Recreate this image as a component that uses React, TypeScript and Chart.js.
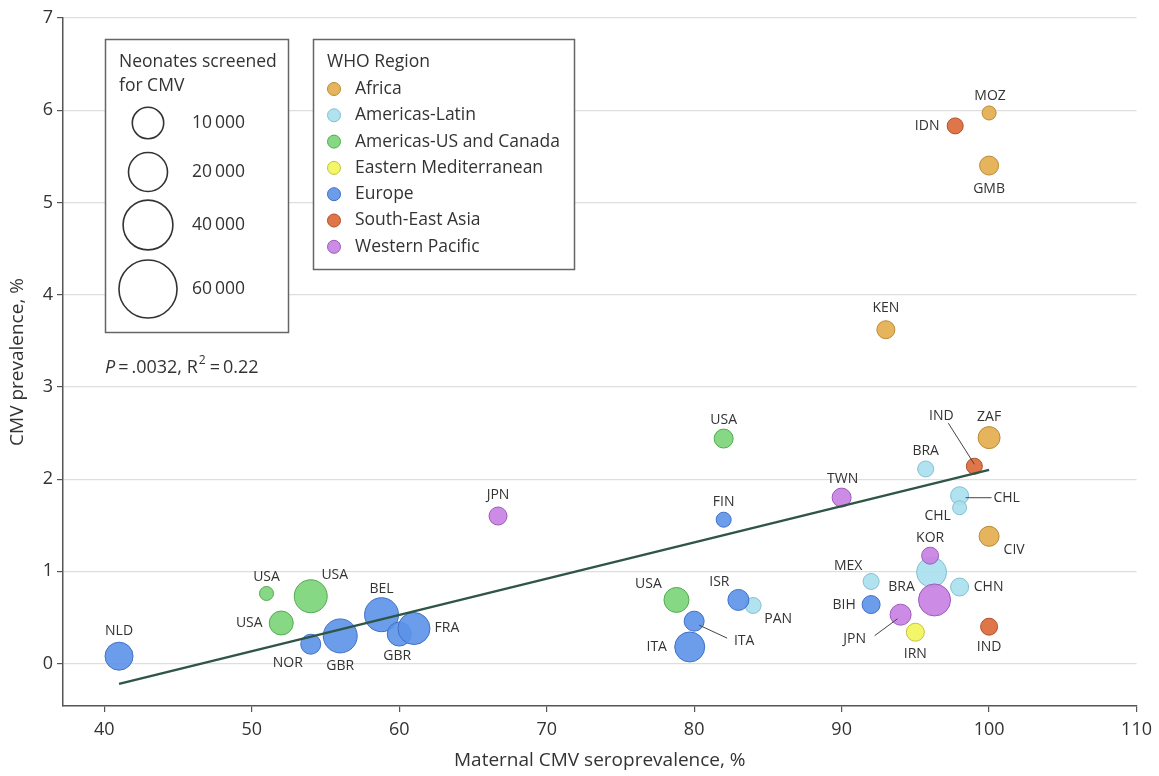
import React, { useEffect, useRef } from 'react';
import { Chart, registerables } from 'chart.js';

Chart.register(...registerables);

const FONT = '"Open Sans", "DejaVu Sans", sans-serif';
const TEXT = '#333333';

// ---------------- data ----------------
const regionNames = [
  'Africa',
  'Americas-Latin',
  'Americas-US and Canada',
  'Eastern Mediterranean',
  'Europe',
  'South-East Asia',
  'Western Pacific',
];

const countryCodes = [
  'NLD', 'USA', 'USA', 'USA', 'NOR', 'GBR', 'BEL', 'GBR', 'FRA', 'JPN',
  'USA', 'ITA', 'ITA', 'ISR', 'PAN', 'USA', 'FIN', 'TWN', 'MEX', 'BIH',
  'JPN', 'IRN', 'BRA', 'KOR', 'BRA', '', 'CHN', 'CHL', 'CHL', 'IND',
  'ZAF', 'CIV', 'IND', 'KEN', 'IDN', 'MOZ', 'GMB',
];

// index into regionNames
const whoRegion = [
  4, 2, 2, 2, 4, 4, 4, 4, 4, 6,
  2, 4, 4, 4, 1, 2, 4, 6, 1, 4,
  6, 3, 1, 6, 1, 6, 1, 1, 1, 5,
  0, 0, 5, 0, 5, 0, 0,
];

const maternalSeroprevalence = [
  41, 51, 54, 52, 54, 56, 58.8, 60, 61, 66.7,
  78.8, 80, 79.7, 83, 84, 82, 82, 90, 92, 92,
  94, 95, 95.7, 96, 96.1, 96.3, 98, 98, 98, 99,
  100, 100, 100, 93, 97.7, 100, 100,
];

const cmvPrevalence = [
  0.08, 0.76, 0.73, 0.44, 0.21, 0.30, 0.53, 0.32, 0.38, 1.60,
  0.69, 0.46, 0.18, 0.69, 0.63, 2.44, 1.56, 1.80, 0.89, 0.64,
  0.53, 0.34, 2.11, 1.17, 0.99, 0.69, 0.83, 1.82, 1.69, 2.14,
  2.45, 1.38, 0.40, 3.62, 5.83, 5.97, 5.40,
];

const neonatesScreened = [
  6650, 30, 11800, 3570, 1450, 13000, 13000, 3570, 10700, 740,
  4250, 1450, 8540, 1890, 270, 1060, 120, 1060, 270, 740,
  1890, 740, 270, 470, 8540, 10700, 740, 740, 30, 270,
  2390, 1450, 470, 740, 270, 30, 1060,
];

const trendX = [41, 100];
const trendY = [-0.22, 2.1];

const xTicks = [40, 50, 60, 70, 80, 90, 100, 110];
const yTicks = [0, 1, 2, 3, 4, 5, 6, 7];

const sizeLegendValues = [10000, 20000, 40000, 60000];
const sizeLegendLabels = ['10\u2009000', '20\u2009000', '40\u2009000', '60\u2009000'];

// ---------------- styles ----------------
const regionFill = [
  'rgba(227,174,79,0.92)',
  'rgba(169,224,238,0.92)',
  'rgba(125,213,122,0.92)',
  'rgba(243,245,92,0.92)',
  'rgba(92,146,232,0.9)',
  'rgba(220,106,58,0.92)',
  'rgba(200,130,227,0.92)',
];
const regionStroke = ['#b98a34', '#84bfd2', '#52aa4f', '#c2c33c', '#3f70c6', '#b04f28', '#9c5bba'];

// label offsets (pixels, relative to point centre)
const labelOffsets = [
  [0, -25], [0, -16], [24, -21], [-32, 0], [-23, 19], [0, 30], [0, -26], [-2, 22], [33, -1], [0, -21],
  [-28, -16], [50, 20], [-33, 0], [-19, -18], [25, 14], [0, -19], [0, -18], [1, -19], [-23, -15], [-27, 0],
  [-46, 24], [0, 22], [0, -18], [0, -18], [-30, 15], [0, 0], [29, 0], [47, 2], [-22, 8], [-33, -50],
  [0, -21], [25, 14], [0, 20], [0, -22], [-28, 0], [1, -17], [0, 23],
];
// leader lines: [x1, y1, x2, y2] relative to point centre
const leaderLines: Record<number, number[]> = {
  11: [5, 4, 33, 17],
  20: [-26, 21, -3, 4],
  27: [6, 2, 32, 2],
  29: [-26, -43, 0, -2],
};

const radiusFor = (n: number) => 6.5 + 0.092 * Math.sqrt(n);

const labelsPlugin = {
  id: 'pointLabels',
  afterDatasetsDraw(chart: any) {
    const { ctx } = chart;
    const xs = chart.scales.x;
    const ys = chart.scales.y;
    ctx.save();
    ctx.font = `14px ${FONT}`;
    ctx.fillStyle = TEXT;
    ctx.textAlign = 'center';
    ctx.textBaseline = 'middle';
    countryCodes.forEach((code, i) => {
      const px = xs.getPixelForValue(maternalSeroprevalence[i]);
      const py = ys.getPixelForValue(cmvPrevalence[i]);
      const [dx, dy] = labelOffsets[i];
      if (code) ctx.fillText(code, px + dx, py + dy);
      const ld = leaderLines[i];
      if (ld) {
        ctx.beginPath();
        ctx.moveTo(px + ld[0], py + ld[1]);
        ctx.lineTo(px + ld[2], py + ld[3]);
        ctx.strokeStyle = '#444';
        ctx.lineWidth = 1;
        ctx.stroke();
      }
    });
    ctx.restore();
  },
};

const legendPlugin = {
  id: 'customLegends',
  afterDraw(chart: any) {
    const { ctx } = chart;
    ctx.save();
    const LF = `17.5px ${FONT}`;
    // size legend
    ctx.fillStyle = '#fff';
    ctx.fillRect(105, 39, 183, 293);
    ctx.strokeStyle = '#666';
    ctx.lineWidth = 1.5;
    ctx.strokeRect(105.5, 39.5, 183, 293);
    ctx.fillStyle = TEXT;
    ctx.font = LF;
    ctx.textAlign = 'left';
    ctx.textBaseline = 'middle';
    ctx.fillText('Neonates screened', 119, 62);
    ctx.fillText('for CMV', 119, 86);
    const cys = [123, 172, 225, 289];
    sizeLegendValues.forEach((v, j) => {
      ctx.beginPath();
      ctx.arc(148, cys[j], radiusFor(v), 0, Math.PI * 2);
      ctx.strokeStyle = '#333';
      ctx.lineWidth = 1.6;
      ctx.stroke();
      ctx.fillStyle = TEXT;
      ctx.fillText(sizeLegendLabels[j], 192, cys[j]);
    });

    // region legend
    ctx.fillStyle = '#fff';
    ctx.fillRect(313, 39, 261, 230);
    ctx.strokeStyle = '#666';
    ctx.lineWidth = 1.5;
    ctx.strokeRect(313.5, 39.5, 261, 230);
    ctx.fillStyle = TEXT;
    ctx.fillText('WHO Region', 327, 62);
    regionNames.forEach((name, k) => {
      const cy = 89 + 26.3 * k;
      ctx.beginPath();
      ctx.arc(334, cy, 6.5, 0, Math.PI * 2);
      ctx.fillStyle = regionFill[k];
      ctx.fill();
      ctx.strokeStyle = regionStroke[k];
      ctx.lineWidth = 1;
      ctx.stroke();
      ctx.fillStyle = TEXT;
      ctx.fillText(name, 355, cy);
    });

    // statistics annotation
    let x = 105;
    const y = 368;
    ctx.font = `italic 18px ${FONT}`;
    ctx.fillText('P', x, y);
    x += ctx.measureText('P').width;
    ctx.font = `18px ${FONT}`;
    const t1 = '\u2009=\u2009.0032, R';
    ctx.fillText(t1, x, y);
    x += ctx.measureText(t1).width;
    ctx.font = `12px ${FONT}`;
    ctx.fillText('2', x + 1, y - 7);
    x += ctx.measureText('2').width + 2;
    ctx.font = `18px ${FONT}`;
    ctx.fillText('\u2009=\u20090.22', x, y);
    ctx.restore();
  },
};

export default function App() {
  const canvasRef = useRef<HTMLCanvasElement | null>(null);

  useEffect(() => {
    if (!canvasRef.current) return;
    const datasets: any[] = [
      {
        type: 'line',
        label: 'Trend',
        data: trendX.map((x, i) => ({ x, y: trendY[i] })),
        borderColor: '#2e5546',
        borderWidth: 2.5,
        pointRadius: 0,
        fill: false,
        order: 0,
      },
    ];
    regionNames.forEach((name, k) => {
      const pts: any[] = [];
      countryCodes.forEach((_, i) => {
        if (whoRegion[i] === k) {
          pts.push({ x: maternalSeroprevalence[i], y: cmvPrevalence[i], r: radiusFor(neonatesScreened[i]) });
        }
      });
      datasets.push({
        type: 'bubble',
        label: name,
        data: pts,
        backgroundColor: regionFill[k],
        borderColor: regionStroke[k],
        borderWidth: 1,
        order: 7 - k,
      });
    });

    const chart = new Chart(canvasRef.current, {
      type: 'bubble',
      data: { datasets },
      options: {
        animation: false,
        responsive: false,
        layout: { padding: { left: 0, top: 15, right: 22, bottom: 0 } },
        plugins: { legend: { display: false }, tooltip: { enabled: false } },
        scales: {
          x: {
            type: 'linear',
            position: 'bottom',
            min: 37.2,
            max: 110,
            afterBuildTicks: (s: any) => {
              s.ticks = xTicks.map((v) => ({ value: v }));
            },
            afterFit: (s: any) => {
              s.height = 70;
            },
            grid: { drawOnChartArea: false, drawTicks: true, tickLength: 6, tickColor: '#555', lineWidth: 1.2 },
            border: { display: true, color: '#555', width: 1.5 },
            ticks: { font: { family: FONT, size: 18 }, color: TEXT, padding: 7, maxRotation: 0 },
            title: {
              display: true,
              text: 'Maternal CMV seroprevalence, %',
              font: { family: FONT, size: 19 },
              color: TEXT,
              padding: { top: 0, bottom: 4 },
            },
          },
          y: {
            type: 'linear',
            min: -0.46,
            max: 7,
            afterBuildTicks: (s: any) => {
              s.ticks = yTicks.map((v) => ({ value: v }));
            },
            afterFit: (s: any) => {
              s.width = 63;
            },
            grid: { color: '#dedede', lineWidth: 1.2, drawTicks: true, tickLength: 6, tickColor: '#555' },
            border: { display: true, color: '#555', width: 1.5 },
            ticks: { font: { family: FONT, size: 18 }, color: TEXT, padding: 4 },
            title: {
              display: true,
              text: 'CMV prevalence, %',
              font: { family: FONT, size: 19 },
              color: TEXT,
              padding: { top: 6, bottom: 0 },
            },
          },
        },
      } as any,
      plugins: [labelsPlugin, legendPlugin],
    });
    return () => chart.destroy();
  }, []);

  return (
    <div style={{ position: 'absolute', left: 0, top: 0, width: 1159, height: 776, background: '#fff' }}>
      <canvas ref={canvasRef} width={1159} height={776} />
    </div>
  );
}
